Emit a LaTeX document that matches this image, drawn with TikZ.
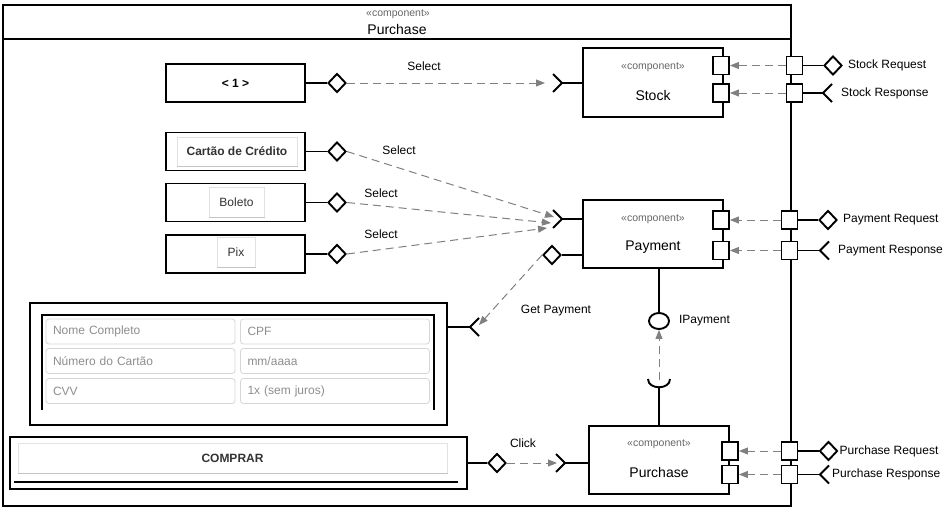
\documentclass[tikz,border=0pt]{standalone}
\usepackage{fontspec}
\setmainfont{Liberation Sans}
\usetikzlibrary{arrows.meta,shapes.geometric,positioning}

\definecolor{stereogray}{HTML}{666666}
\definecolor{depgray}{HTML}{808080}
\definecolor{btnline}{HTML}{E2E2E2}
\definecolor{btnshade}{HTML}{C4C4C4}
\definecolor{btntext}{HTML}{333333}
\definecolor{fieldline}{HTML}{D6D6D6}
\definecolor{fieldtext}{HTML}{8E8E8E}

\tikzset{
  frame/.style={draw, line width=1.9pt},
  comp/.style={draw, line width=1.9pt, fill=white, minimum width=140pt, minimum height=68pt, inner sep=0pt},
  widget/.style={draw, line width=1.9pt, fill=white, minimum width=139pt, minimum height=38pt, inner sep=0pt, font=\fontsize{12}{14}\selectfont\bfseries},
  port/.style={draw, line width=1.9pt, fill=white, minimum width=16pt, minimum height=18pt, inner sep=0pt},
  lozenge/.style={diamond, draw, line width=1.9pt, fill=white, minimum width=18pt, minimum height=19pt, inner sep=0pt},
  link/.style={line width=1.9pt},
  dep/.style={draw=depgray, line width=1pt, dash pattern=on 8pt off 5pt, -{Triangle[length=9pt,width=7pt]}},
  lbl/.style={font=\fontsize{12}{14}\selectfont, inner sep=0pt},
  nametxt/.style={font=\fontsize{14}{16}\selectfont, inner sep=0pt},
  stereotxt/.style={font=\fontsize{10.5}{12}\selectfont, text=stereogray, inner sep=0pt},
  btn/.style={draw=btnline, fill=white, line width=1pt, text=btntext, font=\fontsize{12}{14}\selectfont, inner sep=0pt},
  shade/.style={draw=btnshade, line width=1.6pt},
  field/.style={draw=fieldline, line width=0.8pt, rounded corners=3pt, text=fieldtext, font=\fontsize{12}{14}\selectfont, minimum width=189pt, minimum height=25pt, text width=175pt, inner xsep=7pt, inner ysep=2pt, align=left},
  chevron/.pic={\draw[line width=1.9pt] (-9,-9) -- (0,0) -- (-9,9);}
}

\begin{document}
\begin{tikzpicture}[x=1pt, y=-1pt]
\useasboundingbox (0,0) rectangle (948,514);

%%%%%
%% outer component
%%%%%
\draw[frame] (3,5) rectangle (791,506);
\draw[frame] (3,39) -- (791,39);
\node[stereotxt] (topst) at (398,14) {«component»};
\node[nametxt] (toptitle) at (397,29) {Purchase};

%%%%%
%% Stock
%%%%%
\node[comp, minimum height=69pt] (stock) at (653,82.5) {};
\node[stereotxt] (stockst) at ([yshift=-20pt]stock.north) {«component»};
\node[nametxt] (stockname) at ([yshift=-13pt]stock.center) {Stock};

\node[port] (stockin1) at (721,65.5) {};
\node[port] (stockin2) at (721,93) {};
\node[port] (stockout1) at (794.5,65.5) {};
\node[port] (stockout2) at (794.5,93) {};
\draw[dep] (stockout1.west) -- (stockin1.east);
\draw[dep] (stockout2.west) -- (stockin2.east);

\node[lozenge] (stockreq) at (833,65.5) {};
\node[lbl, right=5pt of stockreq] (stockreqtxt) {Stock Request};
\draw[link] (stockout1.east) -- (stockreq.west);

\coordinate (stockresp) at (823,93);
\draw[link] (stockout2.east) -- (stockresp);
\pic[rotate=180] at (stockresp) {chevron};
\node[lbl, right=18pt of stockresp] (stockresptxt) {Stock Response};

%%%%%
%% Payment
%%%%%
\node[comp] (payment) at (653,234) {};
\node[stereotxt] (payst) at ([yshift=-20pt]payment.north) {«component»};
\node[nametxt] (payname) at ([yshift=-13pt]payment.center) {Payment};

\node[port] (payin1) at (721,220) {};
\node[port] (payin2) at (721,250.5) {};
\node[port] (payout1) at (789.5,220) {};
\node[port] (payout2) at (789.5,250.5) {};
\draw[dep] (payout1.west) -- (payin1.east);
\draw[dep] (payout2.west) -- (payin2.east);

\node[lozenge] (payreq) at (828,220) {};
\node[lbl, right=5pt of payreq] (payreqtxt) {Payment Request};
\draw[link] (payout1.east) -- (payreq.west);

\coordinate (payresp) at (820,250.5);
\draw[link] (payout2.east) -- (payresp);
\pic[rotate=180] at (payresp) {chevron};
\node[lbl, right=18pt of payresp] (payresptxt) {Payment Response};

%%%%%
%% Purchase
%%%%%
\node[comp] (purchase) at (659,460) {};
\node[stereotxt] (buyst) at ([yshift=-19pt]purchase.north) {«component»};
\node[nametxt] (buyname) at ([yshift=-12pt]purchase.center) {Purchase};

\node[port] (buyin1) at (730,451) {};
\node[port] (buyin2) at (730,474.5) {};
\node[port] (buyout1) at (789.5,451) {};
\node[port] (buyout2) at (789.5,474.5) {};
\draw[dep] (buyout1.west) -- (buyin1.east);
\draw[dep] (buyout2.west) -- (buyin2.east);

\node[lozenge] (buyreq) at (828.5,451) {};
\node[lbl, right=1pt of buyreq] (buyreqtxt) {Purchase Request};
\draw[link] (buyout1.east) -- (buyreq.west);

\coordinate (buyresp) at (820,474.5);
\draw[link] (buyout2.east) -- (buyresp);
\pic[rotate=180] at (buyresp) {chevron};
\node[lbl, right=12pt of buyresp] (buyresptxt) {Purchase Response};

%%%%%
%% IPayment
%%%%%
\node[ellipse, draw, line width=1.9pt, minimum width=20pt, minimum height=16pt, inner sep=0pt] (ipay) at (659,321) {};
\draw[link] (payment.south -| ipay.north) -- (ipay.north);
\node[lbl, right=9pt of ipay] (ipaytxt) {IPayment};
\coordinate (cup) at (659,388);
\draw[link] (purchase.north) -- (cup);
\draw[link] ([shift={(-11,-9)}]cup) .. controls +(0,11) and +(0,11) .. ([shift={(11,-9)}]cup);
\draw[dep] ([yshift=8pt]cup) -- (ipay.south);

%%%%%
%% pager and payment options
%%%%%
\node[widget] (pager) at (235.5,83) {< 1 >};
\node[widget] (cardbox) at (235.5,151.5) {};
\node[btn, minimum width=120pt, minimum height=29pt, font=\fontsize{12}{14}\selectfont\bfseries] (cardbtn) at (237,151.5) {Cartão de Crédito};
\draw[shade] (cardbtn.south west) -- (cardbtn.south east);
\node[widget] (boletobox) at (235.5,202.5) {};
\node[btn, minimum width=55pt, minimum height=30pt] (boletobtn) at (236.5,202) {Boleto};
\draw[shade] (boletobtn.south west) -- (boletobtn.south east);
\node[widget] (pixbox) at (235.5,254) {};
\node[btn, minimum width=38pt, minimum height=30pt] (pixbtn) at (236,252) {Pix};
\draw[shade] (pixbtn.south west) -- (pixbtn.south east);

\node[lozenge] (pagerd) at (337,83) {};
\node[lozenge] (cardd) at (337,151.5) {};
\node[lozenge] (boletod) at (337,202.5) {};
\node[lozenge] (pixd) at (337,254) {};
\draw[link] (pager.east) -- (pagerd.west);
\draw[link] (cardbox.east) -- (cardd.west);
\draw[link] (boletobox.east) -- (boletod.west);
\draw[link] (pixbox.east) -- (pixd.west);

\coordinate (stocksock) at (562,83);
\pic at (stocksock) {chevron};
\draw[link] (stocksock) -- (stocksock -| stock.west);
\draw[dep] (pagerd.east) -- ([xshift=-17pt]stocksock);
\node[lbl] (selpager) at (424,66) {Select};

\coordinate (paysock) at (562,219);
\pic at (paysock) {chevron};
\draw[link] (paysock) -- (paysock -| payment.west);
\coordinate (paytip1) at (554,217);
\coordinate (paytip2) at (551,223);
\coordinate (paytip3) at (547,228);
\draw[dep] (cardd.east) -- (paytip1);
\draw[dep] (boletod.east) -- (paytip2);
\draw[dep] (pixd.east) -- (paytip3);
\node[lbl] (selcard) at (399,150) {Select};
\node[lbl] (selboleto) at (381,193) {Select};
\node[lbl] (selpix) at (381,234) {Select};

\node[lozenge] (payd) at (552,255) {};
\draw[link] (payd.east) -- (payd.east -| payment.west);

%%%%%
%% card form
%%%%%
\node[widget, minimum width=417pt, minimum height=122pt] (form) at (238.5,364) {};
\draw[link] (42,410) -- (42,315) -- (434,315) -- (434,410);
\node[field] (fname) at (140.5,331.5) {Nome Completo};
\node[field] (fcpf) at (335,331.5) {CPF};
\node[field] (fnum) at (140.5,361) {Número do Cartão};
\node[field] (fdate) at (335,361) {mm/aaaa};
\node[field] (fcvv) at (140.5,391) {CVV};
\node[field] (fparc) at (335,391) {1x (sem juros)};

\coordinate (formsock) at (470,327);
\draw[link] (form.east |- formsock) -- (formsock);
\pic[rotate=180] at (formsock) {chevron};
\coordinate (formtip) at (479,325);
\draw[dep] (payd.west) -- (formtip);
\node[lbl] (getpay) at (556,311) {Get Payment};

%%%%%
%% buy button
%%%%%
\node[widget, minimum width=457pt, minimum height=52pt] (buybox) at (238.5,463) {};
\node[btn, minimum width=429pt, minimum height=30pt, font=\fontsize{12}{14}\selectfont\bfseries] (buybtn) at (232.5,458) {COMPRAR};
\draw[shade] (buybtn.south west) -- (buybtn.south east);
\draw[line width=1.3pt] ([xshift=5pt,yshift=8pt]buybox.south west) -- ([xshift=-10pt,yshift=8pt]buybox.south east);

\node[lozenge] (buyd) at (497,463) {};
\draw[link] (buybox.east) -- (buyd.west);
\coordinate (buysock) at (565,463);
\pic at (buysock) {chevron};
\draw[link] (buysock) -- (buysock -| purchase.west);
\draw[dep] (buyd.east) -- ([xshift=-8pt]buysock);
\node[lbl] (clicktxt) at (523,443) {Click};

\end{tikzpicture}
\end{document}
